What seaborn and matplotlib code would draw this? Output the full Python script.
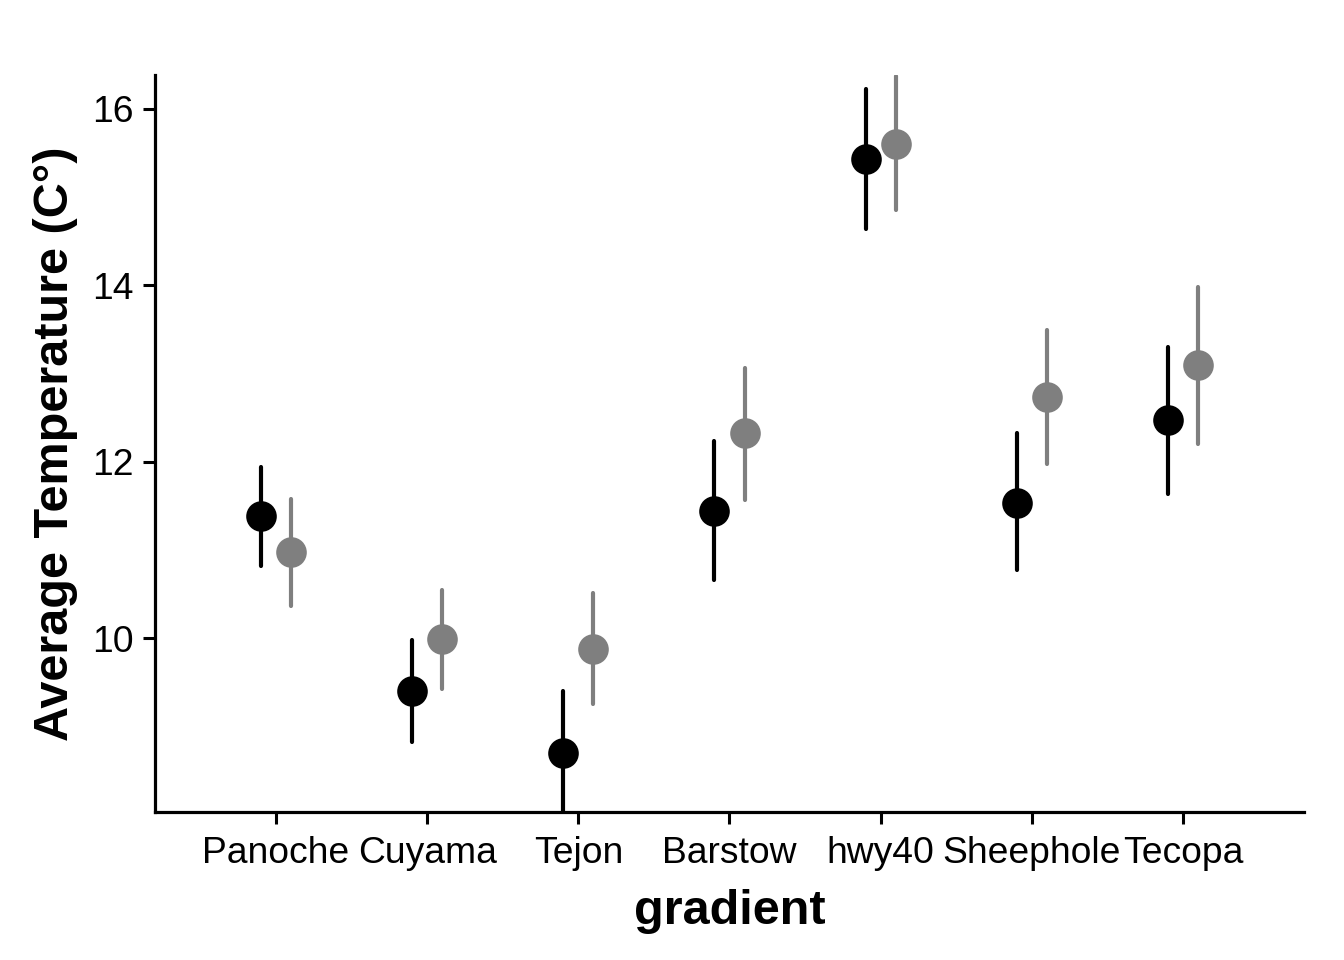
import numpy as np
import pandas as pd
import seaborn as sns
import matplotlib.pyplot as plt

gradients = ["Panoche", "Cuyama", "Tejon", "Barstow", "hwy40", "Sheephole", "Tecopa"]
groups = ["first", "second"]

mean_first = [11.38, 9.40, 8.70, 11.44, 15.43, 11.53, 12.47]
low_first = [10.82, 8.82, 8.00, 10.66, 14.64, 10.77, 11.63]
high_first = [11.94, 9.98, 9.40, 12.24, 16.22, 12.32, 13.30]

mean_second = [10.98, 9.99, 9.88, 12.32, 15.60, 12.73, 13.09]
low_second = [10.37, 9.42, 9.26, 11.57, 14.85, 11.97, 12.20]
high_second = [11.58, 10.55, 10.51, 13.06, 16.37, 13.49, 13.98]

# long table: lower, mean and upper per point, median gives the point, range the bar
rows = []
for g, lo, m, hi in [("first", low_first, mean_first, high_first),
                     ("second", low_second, mean_second, high_second)]:
    for i, name in enumerate(gradients):
        for v in (lo[i], m[i], hi[i]):
            rows.append({"gradient": name, "group": g, "temp": v})
df = pd.DataFrame(rows)

sns.set_style("ticks")
plt.rcParams["font.family"] = ["Liberation Sans", "DejaVu Sans"]

fig = plt.figure(figsize=(13.44, 9.6), dpi=100)
ax = fig.add_axes([0.1153, 0.1545, 0.8549, 0.7674])

sns.pointplot(data=df, x="gradient", y="temp", hue="group", order=gradients,
              hue_order=groups, palette=["black", "#7f7f7f"],
              estimator=np.median, errorbar=lambda v: (v.min(), v.max()),
              dodge=0.2, linestyle="none", markers="o", markersize=20,
              err_kws={"linewidth": 3.0}, ax=ax, legend=False)

ax.set_xlim(-0.8, 6.8)
ax.set_ylim(8.036, 16.38)
ax.set_yticks([10, 12, 14, 16])
ax.set_xlabel("gradient", fontsize=35, fontweight="bold", labelpad=13, color="black")
ax.set_ylabel("Average Temperature (C°)", fontsize=35, fontweight="bold", labelpad=10, color="black")
ax.tick_params(axis="both", labelsize=26.8, length=8.5, width=2.2, color="black", labelcolor="black")
ax.tick_params(axis="x", pad=9)
ax.tick_params(axis="y", pad=7)
for side in ["left", "bottom"]:
    ax.spines[side].set_linewidth(2.3)
    ax.spines[side].set_color("black")
sns.despine(ax=ax)

fig.savefig("out.png", dpi=100)
